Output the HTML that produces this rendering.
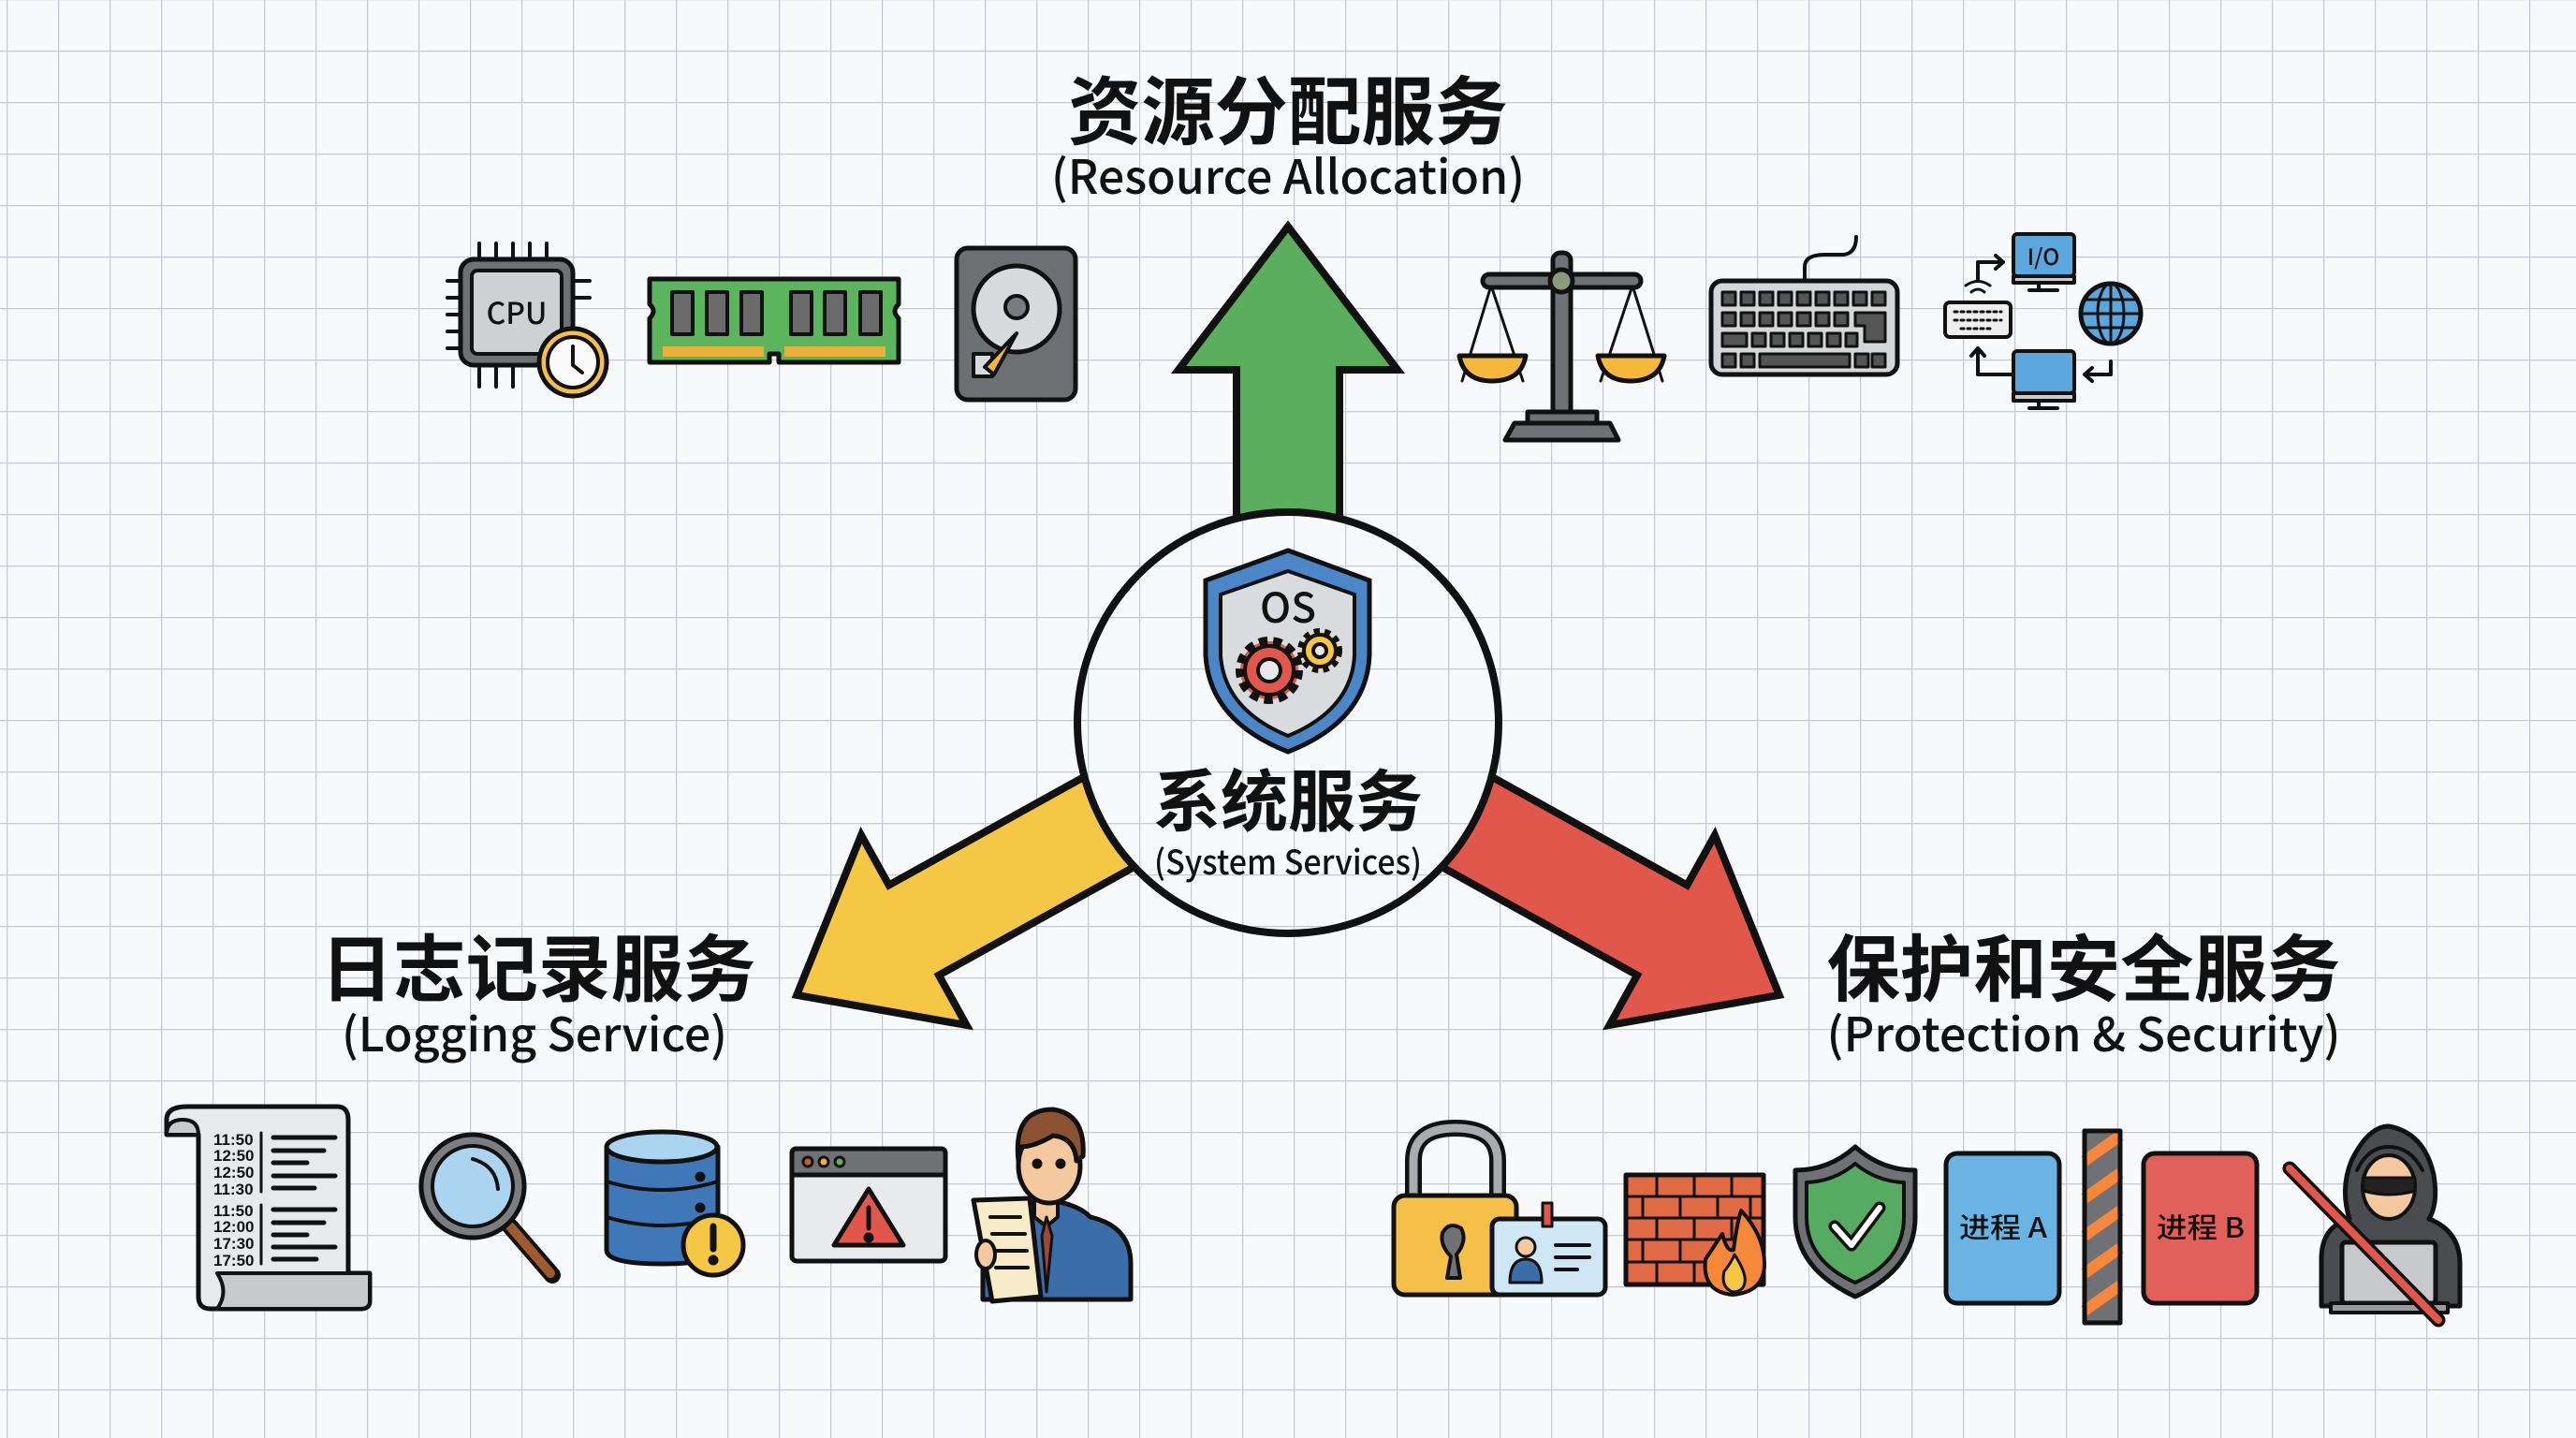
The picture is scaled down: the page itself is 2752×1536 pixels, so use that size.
<!DOCTYPE html>
<html><head><meta charset="utf-8"><style>
html,body{margin:0;padding:0;background:#f7f9fb;}
svg{display:block}
.cj{font-family:"Liberation Sans","Noto Sans CJK SC",sans-serif;font-weight:bold;fill:#111}
.en{font-family:"Noto Sans CJK SC","Liberation Sans",sans-serif;font-weight:500;fill:#111}
</style></head><body>
<svg width="2752" height="1536" viewBox="0 0 2752 1536" xmlns="http://www.w3.org/2000/svg">
<defs>
<pattern id="g" x="7" y="-1" width="55" height="55" patternUnits="userSpaceOnUse">
<path d="M0 0H55M0 0V55" stroke="#c4c9d2" stroke-width="2.5" fill="none"/>
</pattern>
</defs>
<rect width="2752" height="1536" fill="#f7f9fb"/>
<rect width="2752" height="1536" fill="url(#g)"/>

<!-- arrows -->
<g stroke="#111" stroke-width="8" stroke-linejoin="miter">
<polygon transform="translate(1376,772) rotate(-90)" points="0,-55 377,-55 377,-117 530,0 377,117 377,55 0,55" fill="#5aae5c"/>
<polygon transform="translate(1376,772) rotate(151)" points="0,-55 457,-55 457,-116 600,0 457,116 457,55 0,55" fill="#f6c744"/>
<polygon transform="translate(1376,772) rotate(29)" points="0,-55 457,-55 457,-116 600,0 457,116 457,55 0,55" fill="#e2574c"/>
</g>
<circle cx="1376" cy="772" r="225" fill="#f7f9fb" stroke="#111" stroke-width="8"/>
<circle cx="1376" cy="772" r="221" fill="url(#g)"/>

<!-- center shield -->
<path d="M1376 588 L1463 620 L1463 700 Q1460 770 1376 803 Q1292 770 1288 700 L1288 620 Z" fill="#4a86c8" stroke="#111" stroke-width="5"/>
<path d="M1376 610 L1447 635 L1447 700 Q1444 758 1376 786 Q1308 758 1304 700 L1304 635 Z" fill="#d9dbdf" stroke="#111" stroke-width="4"/>
<text x="1376" y="665" text-anchor="middle" class="en" font-size="44">OS</text>
<g stroke="#111" stroke-width="4">
<circle cx="1356" cy="716" r="31" fill="#e2574c" stroke-dasharray="9 6" stroke-width="10"/>
<circle cx="1356" cy="716" r="26" fill="#e2574c"/>
<circle cx="1356" cy="716" r="12" fill="#e8e8e8"/>
<circle cx="1410" cy="695" r="20" fill="#f6c744" stroke-dasharray="6 5" stroke-width="8"/>
<circle cx="1410" cy="695" r="17" fill="#f6c744"/>
<circle cx="1410" cy="695" r="7" fill="#e8e8e8"/>
</g>
<text x="1376" y="882" text-anchor="middle" class="cj" font-size="72">系统服务</text>
<text x="1376" y="934" text-anchor="middle" class="en" font-size="36" textLength="286" lengthAdjust="spacingAndGlyphs">(System Services)</text>

<!-- titles -->
<text x="1376" y="148" text-anchor="middle" class="cj" font-size="80" textLength="470" lengthAdjust="spacingAndGlyphs">资源分配服务</text>
<text x="1376" y="207" text-anchor="middle" class="en" font-size="50" textLength="506" lengthAdjust="spacingAndGlyphs">(Resource Allocation)</text>
<text x="575" y="1063" text-anchor="middle" class="cj" font-size="78" textLength="465" lengthAdjust="spacingAndGlyphs">日志记录服务</text>
<text x="571" y="1123" text-anchor="middle" class="en" font-size="50" textLength="412" lengthAdjust="spacingAndGlyphs">(Logging Service)</text>
<text x="2226" y="1063" text-anchor="middle" class="cj" font-size="78" textLength="549" lengthAdjust="spacingAndGlyphs">保护和安全服务</text>
<text x="2226" y="1123" text-anchor="middle" class="en" font-size="50" textLength="549" lengthAdjust="spacingAndGlyphs">(Protection &amp; Security)</text>

<g stroke="#111" stroke-width="5" stroke-linejoin="round" stroke-linecap="round">
<!-- CPU -->
<g stroke-width="4">
<path d="M512 260V277M530 260V277M548 260V277M566 260V277M584 260V277M512 390V413M530 390V413M548 390V413M478 300H492M478 318H492M478 336H492M478 354H492M478 372H492M612 300H630M612 318H630"/>
</g>
<rect x="492" y="277" width="120" height="113" rx="14" fill="#6f7174"/>
<rect x="504" y="289" width="96" height="89" rx="6" fill="#cfd0d3" stroke-width="4"/>
<text x="552" y="346" text-anchor="middle" class="en" font-size="32" stroke="none">CPU</text>
<circle cx="612" cy="387" r="36" fill="#f5c04a"/>
<circle cx="612" cy="387" r="27" fill="#fafafa" stroke-width="4"/>
<path d="M612 370V390L622 398" stroke-width="4" fill="none"/>
<!-- RAM -->
<path d="M694 298H960V325Q952 332 960 340V387H832V378H822V387H694V340Q702 332 694 325Z" fill="#5bb55c"/>
<g fill="#6b6b6b" stroke-width="4">
<rect x="718" y="312" width="22" height="45"/><rect x="755" y="312" width="22" height="45"/><rect x="792" y="312" width="22" height="45"/>
<rect x="845" y="312" width="22" height="45"/><rect x="881" y="312" width="22" height="45"/><rect x="919" y="312" width="22" height="45"/>
</g>
<rect x="708" y="370" width="108" height="11" fill="#e8b23a" stroke="none"/>
<rect x="838" y="370" width="108" height="11" fill="#e8b23a" stroke="none"/>
<!-- HDD -->
<rect x="1022" y="265" width="127" height="162" rx="12" fill="#6d6f72"/>
<circle cx="1086" cy="330" r="46" fill="#d9dadc"/>
<circle cx="1086" cy="328" r="12" fill="#7a7b7e" stroke-width="4"/>
<rect x="1040" y="378" width="20" height="24" fill="#d9dadc" stroke-width="4"/>
<path d="M1052 392 L1086 356 L1062 400Z" fill="#f0b840" stroke-width="4"/>
<!-- scale -->
<path d="M1593 305L1562 407M1593 305L1627 407M1744 305L1710 407M1744 305L1776 407" stroke-width="3" fill="none"/>
<rect x="1659" y="270" width="19" height="175" rx="8" fill="#6f7174"/>
<rect x="1584" y="293" width="169" height="14" rx="7" fill="#6f7174"/>
<circle cx="1668" cy="300" r="12" fill="#8a9a7a"/>
<path d="M1559 380H1630Q1625 407 1594 407Q1564 407 1559 380Z" fill="#f5b83d"/>
<path d="M1707 380H1778Q1773 407 1742 407Q1712 407 1707 380Z" fill="#f5b83d"/>
<path d="M1632 440H1706V452H1632Z" fill="#6f7174"/>
<path d="M1618 452H1720L1729 470H1608Z" fill="#6f7174"/>
<!-- keyboard -->
<path d="M1928 300V285Q1928 272 1950 272H1970Q1983 270 1983 253" fill="none" stroke-width="4"/>
<rect x="1828" y="300" width="199" height="100" rx="12" fill="#d5d6d8"/>
<g fill="#555" stroke-width="3">
<rect x="1840" y="312" width="14" height="14"/><rect x="1860" y="312" width="14" height="14"/><rect x="1880" y="312" width="14" height="14"/><rect x="1900" y="312" width="14" height="14"/><rect x="1920" y="312" width="14" height="14"/><rect x="1940" y="312" width="14" height="14"/><rect x="1960" y="312" width="14" height="14"/><rect x="1980" y="312" width="14" height="14"/><rect x="2000" y="312" width="14" height="14"/>
<rect x="1840" y="334" width="14" height="14"/><rect x="1860" y="334" width="14" height="14"/><rect x="1880" y="334" width="14" height="14"/><rect x="1900" y="334" width="14" height="14"/><rect x="1920" y="334" width="14" height="14"/><rect x="1940" y="334" width="14" height="14"/><rect x="1960" y="334" width="14" height="14"/><path d="M1982 334H2014V365H1992V348H1982Z"/>
<rect x="1840" y="356" width="26" height="14"/><rect x="1872" y="356" width="14" height="14"/><rect x="1892" y="356" width="14" height="14"/><rect x="1912" y="356" width="14" height="14"/><rect x="1932" y="356" width="14" height="14"/><rect x="1952" y="356" width="14" height="14"/><rect x="1972" y="356" width="12" height="14"/>
<rect x="1840" y="378" width="14" height="14"/><rect x="1860" y="378" width="14" height="14"/><rect x="1880" y="378" width="96" height="14"/><rect x="1982" y="378" width="14" height="14"/><rect x="2000" y="378" width="14" height="14"/>
</g>
<!-- IO network -->
<rect x="2151" y="250" width="65" height="45" rx="4" fill="#5ba6dc" stroke-width="4"/>
<path d="M2151 295H2216V302H2151Z" fill="#ccc" stroke-width="4"/><path d="M2178 302V310M2168 310H2198" stroke-width="4"/>
<text x="2183" y="283" text-anchor="middle" class="en" font-size="24" stroke="none">I/O</text>
<rect x="2151" y="375" width="65" height="45" rx="4" fill="#5ba6dc" stroke-width="4"/>
<path d="M2151 420H2216V428H2151Z" fill="#ccc" stroke-width="4"/><path d="M2178 428V436M2168 436H2198" stroke-width="4"/>
<rect x="2078" y="323" width="70" height="37" rx="5" fill="#eee" stroke-width="4"/>
<path d="M2088 333H2138M2088 342H2138M2095 351H2130" stroke-dasharray="3 4" stroke-width="3"/>
<path d="M2106 312Q2113 306 2120 312M2100 305Q2113 296 2126 305" fill="none" stroke-width="3"/>
<path d="M2113 300V280H2140M2132 273L2140 280L2132 287" fill="none" stroke-width="4"/>
<path d="M2148 400H2113V372M2106 380L2113 372L2120 380" fill="none" stroke-width="4"/>
<path d="M2255 386V400H2227M2235 393L2227 400L2235 407" fill="none" stroke-width="4"/>
<circle cx="2255" cy="335" r="32" fill="#5ba6dc"/>
<ellipse cx="2255" cy="335" rx="14" ry="32" fill="none" stroke-width="3"/>
<path d="M2223 335H2287M2228 320H2282M2228 350H2282M2255 303V367" stroke-width="3"/>

<!-- scroll -->
<path d="M200 1182H360Q372 1182 372 1196V1360H395V1390Q395 1398 385 1398H225Q212 1398 212 1385V1212H178V1196Q178 1182 200 1182Z" fill="#e8e9eb"/>
<path d="M178 1212Q178 1196 195 1196Q212 1196 212 1212Z" fill="#c8c9cb" stroke-width="4"/>
<path d="M232 1360H395V1390Q395 1398 385 1398H232Q245 1380 232 1360Z" fill="#c8c9cb" stroke-width="4"/>
<g stroke="none" fill="#111" font-family="Liberation Sans, sans-serif" font-size="17" font-weight="bold">
<text x="228" y="1223">11:50</text><text x="228" y="1240">12:50</text><text x="228" y="1258">12:50</text><text x="228" y="1276">11:30</text>
<text x="228" y="1299">11:50</text><text x="228" y="1316">12:00</text><text x="228" y="1334">17:30</text><text x="228" y="1352">17:50</text>
</g>
<path d="M279 1210V1273M279 1287V1350" stroke-width="3"/>
<path d="M292 1215H358M292 1229H346M292 1242H328M292 1256H358M292 1269H336M292 1292H358M292 1306H346M292 1319H328M292 1332H358M292 1345H338" stroke-width="5"/>
<!-- magnifier -->
<path d="M545 1310L590 1362" stroke="#111" stroke-width="18"/>
<path d="M545 1310L588 1360" stroke="#a05a30" stroke-width="10"/>
<circle cx="505" cy="1267" r="55" fill="#7b7d80"/>
<circle cx="505" cy="1267" r="43" fill="#aad4f0" stroke-width="4"/>
<path d="M505 1238Q530 1245 532 1270" fill="none" stroke-width="4"/>
<!-- DB -->
<path d="M648 1225V1335Q648 1350 707 1350Q767 1350 767 1335V1225Z" fill="#3e78b8"/>
<ellipse cx="707" cy="1225" rx="59" ry="16" fill="#a9d3ef"/>
<path d="M648 1262Q707 1280 767 1262M648 1300Q707 1318 767 1300" fill="none" stroke-width="4"/>
<circle cx="748" cy="1257" r="3" fill="#111"/><circle cx="748" cy="1290" r="3" fill="#111"/>
<circle cx="762" cy="1330" r="32" fill="#f6c744"/>
<path d="M762 1310V1334" stroke-width="7"/><circle cx="762" cy="1346" r="3" fill="#111"/>
<!-- browser -->
<rect x="846" y="1227" width="164" height="120" rx="5" fill="#e9eaec"/>
<path d="M846 1255H1010V1232Q1010 1227 1005 1227H851Q846 1227 846 1232Z" fill="#6f7174"/>
<circle cx="863" cy="1241" r="5" fill="#c0603a" stroke-width="3"/><circle cx="880" cy="1241" r="5" fill="#f0b040" stroke-width="3"/><circle cx="897" cy="1241" r="5" fill="#60b060" stroke-width="3"/>
<path d="M928 1270L965 1330H891Z" fill="#e2574c"/>
<path d="M928 1290V1312" stroke-width="5"/><circle cx="928" cy="1322" r="3" fill="#111"/>
<!-- person -->
<path d="M1075 1300Q1090 1285 1118 1282Q1150 1285 1165 1300Q1208 1310 1208 1350V1388H1050V1340Q1052 1310 1075 1300Z" fill="#3b6ea8"/>
<path d="M1105 1280H1130V1300L1118 1310L1105 1300Z" fill="#f5c9a0" stroke-width="4"/>
<path d="M1118 1300L1113 1320L1118 1380L1124 1320Z" fill="#9a4a30" stroke-width="3"/>
<ellipse cx="1121" cy="1245" rx="33" ry="40" fill="#f5c9a0"/>
<path d="M1088 1240Q1082 1185 1125 1185Q1160 1190 1157 1235L1150 1240Q1148 1215 1125 1213Q1105 1225 1090 1225Z" fill="#8a5230"/>
<circle cx="1108" cy="1243" r="3" fill="#111"/><circle cx="1133" cy="1243" r="3" fill="#111"/>
<path d="M1040 1282L1100 1280L1112 1385L1060 1390Z" fill="#f6edc8"/>
<path d="M1058 1300H1090M1060 1318H1095M1062 1336H1097M1064 1354H1098" stroke-width="4"/>
<ellipse cx="1053" cy="1340" rx="10" ry="15" fill="#f5c9a0" stroke-width="4"/>

<!-- padlock -->
<path d="M1510 1280V1240Q1510 1205 1555 1205Q1600 1205 1600 1240V1280" fill="none" stroke="#111" stroke-width="18"/>
<path d="M1510 1280V1240Q1510 1205 1555 1205Q1600 1205 1600 1240V1280" fill="none" stroke="#a9abae" stroke-width="9"/>
<rect x="1489" y="1277" width="131" height="106" rx="12" fill="#f5c04a"/>
<path d="M1550 1342Q1538 1330 1541 1317Q1548 1304 1561 1312Q1568 1325 1556 1340L1560 1365H1546Z" fill="#6f7174" stroke-width="4"/>
<rect x="1594" y="1302" width="121" height="81" rx="8" fill="#cfe6f5"/>
<rect x="1648" y="1285" width="10" height="25" fill="#e2574c" stroke-width="3"/>
<circle cx="1630" cy="1332" r="10" fill="#f5c9a0" stroke-width="3"/>
<path d="M1613 1370Q1613 1345 1630 1345Q1647 1345 1647 1370Z" fill="#3b6ea8" stroke-width="3"/>
<path d="M1662 1330H1698M1662 1343H1698M1662 1356H1685" stroke-width="4"/>
<!-- firewall -->
<rect x="1737" y="1255" width="147" height="117" fill="#df6a44"/>
<path d="M1737 1278H1884M1737 1301H1884M1737 1324H1884M1737 1348H1884M1770 1255V1278M1810 1255V1278M1850 1255V1278M1755 1278V1301M1795 1278V1301M1835 1278V1301M1870 1278V1301M1770 1301V1324M1810 1301V1324M1850 1301V1324M1755 1324V1348M1795 1324V1348M1770 1348V1372M1810 1348V1372" stroke-width="3"/>
<path d="M1851 1383Q1818 1380 1822 1345Q1832 1330 1840 1318Q1845 1338 1852 1335Q1855 1310 1860 1293Q1885 1320 1885 1350Q1885 1380 1851 1383Z" fill="#f5883a" stroke-width="4"/>
<path d="M1851 1380Q1838 1375 1842 1358Q1850 1348 1853 1340Q1866 1360 1864 1370Q1862 1380 1851 1380Z" fill="#f6c744" stroke-width="3"/>
<!-- shield green -->
<path d="M1982 1225Q2010 1250 2046 1250V1300Q2046 1355 1982 1385Q1918 1355 1918 1300V1250Q1954 1250 1982 1225Z" fill="#6f7174"/>
<path d="M1982 1243Q2005 1262 2034 1263V1300Q2034 1347 1982 1370Q1930 1347 1930 1300V1263Q1959 1262 1982 1243Z" fill="#56aa62" stroke-width="4"/>
<path d="M1960 1310L1978 1330L2008 1290" fill="none" stroke="#111" stroke-width="13"/>
<path d="M1960 1310L1978 1330L2008 1290" fill="none" stroke="#fff" stroke-width="6"/>
<!-- process boxes -->
<rect x="2079" y="1232" width="121" height="160" rx="12" fill="#6ab4e4"/>
<text x="2140" y="1322" text-anchor="middle" class="en" font-size="30" stroke="none" textLength="94" lengthAdjust="spacingAndGlyphs">进程 A</text>
<rect x="2227" y="1208" width="38" height="205" fill="#6f7174"/>
<path d="M2227 1240L2265 1213M2227 1280L2265 1253M2227 1320L2265 1293M2227 1360L2265 1333M2227 1400L2265 1373" stroke="#f5883a" stroke-width="12" stroke-linecap="butt"/>
<rect x="2227" y="1208" width="38" height="205" fill="none"/>
<rect x="2290" y="1232" width="121" height="160" rx="12" fill="#e2605a"/>
<text x="2351" y="1322" text-anchor="middle" class="en" font-size="30" stroke="none" textLength="94" lengthAdjust="spacingAndGlyphs">进程 B</text>
<!-- hacker -->
<path d="M2480 1395V1345Q2480 1310 2510 1302Q2500 1270 2512 1240Q2530 1203 2552 1203Q2590 1210 2600 1255Q2605 1285 2595 1302Q2628 1315 2628 1350V1395Z" fill="#4a4c50"/>
<ellipse cx="2552" cy="1268" rx="28" ry="34" fill="#f5c9a0" stroke-width="4"/>
<path d="M2525 1258H2580V1272Q2552 1280 2525 1272Z" fill="#222" stroke-width="3"/>
<path d="M2518 1250Q2530 1225 2552 1225Q2575 1225 2588 1250" fill="none" stroke-width="4"/>
<rect x="2502" y="1327" width="100" height="65" rx="4" fill="#c8c9cb"/>
<rect x="2490" y="1392" width="125" height="10" fill="#9a9b9d" stroke-width="4"/>
<path d="M2446 1248L2605 1410" stroke="#111" stroke-width="15"/>
<path d="M2446 1248L2605 1410" stroke="#e2574c" stroke-width="8"/>
</g>
</svg>
</body></html>
